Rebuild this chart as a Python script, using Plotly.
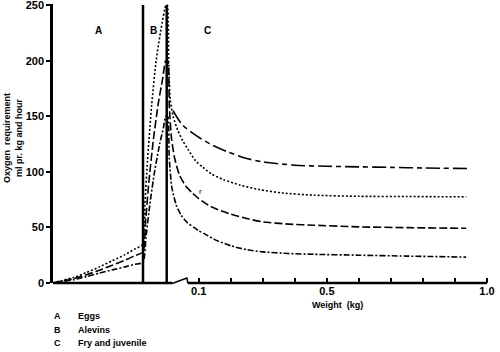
import plotly.graph_objects as go

# ---- data (x: stage/weight axis, kg for the fry part; y: ml O2 per kg and hour)
egg_x = [-0.355, -0.33, -0.29, -0.25, -0.21, -0.17, -0.13, -0.10, -0.074]
alevin_x_15 = [-0.068, -0.06, -0.047, -0.033, -0.018, -0.002]
alevin_x_10 = [-0.066, -0.056, -0.042, -0.026, -0.012, -0.003]
alevin_x_5 = [-0.065, -0.053, -0.038, -0.022, -0.010, -0.003]

egg_15 = [0, 2, 5, 9.5, 14.5, 20, 25.5, 30.5, 35]
egg_10 = [0, 1.5, 4, 7.5, 11.5, 16, 20.5, 24.5, 28]
egg_5 = [0, 1, 3, 5.8, 9, 11.8, 14.5, 16.8, 18.5]

alevin_15 = [70, 110, 160, 200, 228, 250]
alevin_10 = [55, 90, 128, 162, 185, 200]
alevin_5 = [40, 70, 100, 125, 140, 150]

fry_x_20 = [0.02, 0.03, 0.05, 0.08, 0.106, 0.15, 0.19, 0.25, 0.3, 0.4, 0.5, 0.6, 0.7, 0.8, 0.938]
fry_20 = [155, 150, 142, 135, 130, 123, 118, 112, 109, 106, 105, 104.5, 104, 103.5, 103]
fry_x_15 = [0.002, 0.006, 0.011, 0.02, 0.035, 0.05, 0.067, 0.09, 0.113, 0.14, 0.177, 0.23, 0.29, 0.36, 0.46, 0.6, 0.75, 0.935]
fry_15 = [250, 200, 165, 150, 137, 128, 120, 110, 104, 98, 93, 88, 84, 81, 79, 78, 77.8, 77.5]
fry_x_10 = [0.003, 0.008, 0.015, 0.025, 0.04, 0.06, 0.08, 0.1, 0.13, 0.16, 0.2, 0.25, 0.3, 0.38, 0.46, 0.6, 0.75, 0.935]
fry_10 = [200, 160, 130, 112, 97, 87, 81, 76, 70, 66, 62, 58, 55, 53, 52, 50.5, 49.8, 49.2]
fry_x_5 = [0.003, 0.008, 0.016, 0.03, 0.045, 0.065, 0.085, 0.1, 0.12, 0.15, 0.2, 0.25, 0.3, 0.38, 0.46, 0.6, 0.75, 0.935]
fry_5 = [150, 112, 86, 70, 61, 54, 50, 47, 44, 39, 33.5, 30, 28, 26.5, 25.8, 25, 24.2, 23.3]

temp_labels = ["20°C", "15°C", "10°C", "5°C"]
label_y = [101.7, 77.6, 48.6, 22.8]

stage_bounds = [-0.074, 0.0]
stage_letters = ["A", "B", "C"]
stage_letter_x = [-0.2116, -0.042, 0.128]
stage_names = ["Eggs", "Alevins", "Fry and juvenile"]

x_tickvals = [0.1, 0.2, 0.3, 0.4, 0.5, 0.6, 0.7, 0.8, 0.9, 1.0]
x_ticktext = ["0.1", "", "", "", "0.5", "", "", "", "", "1.0"]
y_tickvals = [0, 50, 100, 150, 200, 250]

XMIN, XMAX = -0.355, 1.0094
YMIN, YMAX = 0, 251
FONT = "Liberation Sans Narrow, Arial Narrow, Liberation Sans, Arial"

fig = go.Figure()
lw = 1.6
fig.add_trace(go.Scatter(x=fry_x_20, y=fry_20, mode="lines",
                         line=dict(color="black", width=lw, dash="14px,4px,5px,4px", shape="spline", smoothing=0.8)))
fig.add_trace(go.Scatter(x=egg_x + alevin_x_15 + fry_x_15, y=egg_15 + alevin_15 + fry_15, mode="lines",
                         line=dict(color="black", width=lw, dash="2px,2px", shape="spline", smoothing=0.6)))
fig.add_trace(go.Scatter(x=egg_x + alevin_x_10 + fry_x_10, y=egg_10 + alevin_10 + fry_10, mode="lines",
                         line=dict(color="black", width=lw, dash="8px,3px", shape="spline", smoothing=0.6)))
fig.add_trace(go.Scatter(x=egg_x + alevin_x_5 + fry_x_5, y=egg_5 + alevin_5 + fry_5, mode="lines",
                         line=dict(color="black", width=lw, dash="6px,2px,2px,2px", shape="spline", smoothing=0.6)))

shapes = []
for b in stage_bounds:
    shapes.append(dict(type="line", xref="x", yref="y", x0=b, x1=b, y0=0, y1=250,
                       line=dict(color="black", width=2.5)))
# broken x baseline
shapes.append(dict(type="line", xref="x", yref="paper", x0=XMIN, x1=0.017, y0=0, y1=0,
                   line=dict(color="black", width=2.5)))
shapes.append(dict(type="path", xref="x", yref="paper",
                   path="M 0.017,-0.002 L 0.063,0.018 L 0.066,0",
                   line=dict(color="black", width=1.5)))
shapes.append(dict(type="line", xref="x", yref="paper", x0=0.066, x1=1.0, y0=0, y1=0,
                   line=dict(color="black", width=2.5)))

BOLD = dict(family=FONT, color="black", weight="bold")
ann = []
for t, y in zip(temp_labels, label_y):
    ann.append(dict(x=1.019, y=y, xref="x", yref="y", text=t, showarrow=False,
                    xanchor="right", yanchor="middle", font=dict(BOLD, size=10)))
for l, x in zip(stage_letters, stage_letter_x):
    ann.append(dict(x=x, y=227.5, xref="x", yref="y", text=l, showarrow=False,
                    xanchor="center", yanchor="middle", font=dict(BOLD, size=10)))
ann.append(dict(x=0.104, y=82, xref="x", yref="y", text="r", showarrow=False,
                font=dict(family=FONT, color="black", size=8)))
ann.append(dict(x=0.532, y=0, xref="x", yref="paper", yshift=-22, text="Weight  (kg)",
                showarrow=False, xanchor="center", yanchor="middle", font=dict(BOLD, size=9)))
ann.append(dict(x=0, y=0.52, xref="paper", yref="paper", xshift=-40, xanchor="center", yanchor="middle",
                text="Oxygen  requirement<br>ml pr. kg and hour", textangle=-90, showarrow=False,
                font=dict(BOLD, size=9)))
for i, (l, n) in enumerate(zip(stage_letters, stage_names)):
    yy = -(33 + 13.5 * i) / 279
    ann.append(dict(x=0, y=yy, xref="paper", yref="paper", xshift=-1, text=l, showarrow=False,
                    xanchor="left", yanchor="middle", font=dict(BOLD, size=9)))
    ann.append(dict(x=0, y=yy, xref="paper", yref="paper", xshift=23, text=n, showarrow=False,
                    xanchor="left", yanchor="middle", font=dict(BOLD, size=9)))

fig.update_layout(
    width=500, height=352,
    margin=dict(l=53, r=10, t=4, b=69),
    paper_bgcolor="white", plot_bgcolor="white",
    showlegend=False,
    font=dict(family=FONT, color="black", size=11),
    shapes=shapes, annotations=ann,
    xaxis=dict(range=[XMIN, XMAX], showgrid=False, zeroline=False, showline=False, automargin=False,
               tickvals=x_tickvals, ticktext=x_ticktext, ticks="inside", ticklen=5,
               ticklabeloverflow="allow",
               tickwidth=1.5, tickcolor="black", tickfont=dict(BOLD, size=11)),
    yaxis=dict(range=[YMIN, YMAX], showgrid=False, zeroline=False, showline=True, automargin=False,
               ticklabeloverflow="allow",
               linecolor="black", linewidth=2.5, tickvals=y_tickvals, ticks="outside",
               ticklen=4, tickwidth=2, tickcolor="black", tickfont=dict(BOLD, size=11)),
)

fig.write_html("out.html", config={"displayModeBar": False},
               post_script="document.body.style.margin='0';document.body.style.overflow='hidden';")
